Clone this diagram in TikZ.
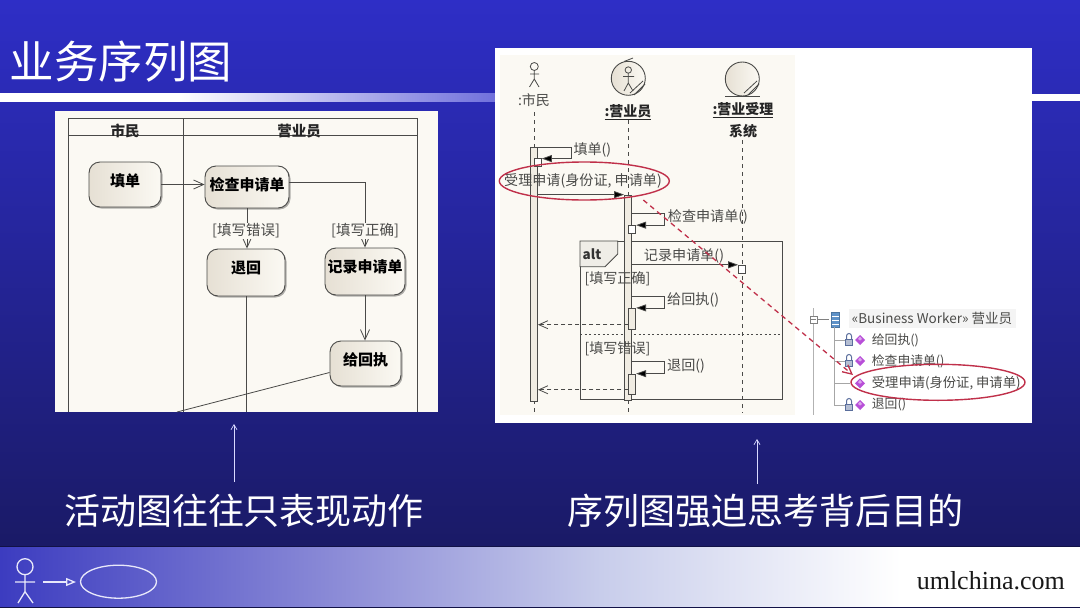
\documentclass[tikz,border=0pt]{standalone}
\usepackage{fontspec}
\setmainfont{Noto Sans CJK SC}
\newfontfamily\latinserif{Liberation Serif}
\usetikzlibrary{arrows.meta,calc,shadows,positioning,shapes.geometric}
\definecolor{bgtop}{HTML}{2E2EC6}
\definecolor{bgmid}{HTML}{2A2AB0}
\definecolor{bgbot}{HTML}{1A1A66}
\definecolor{cream}{HTML}{FBF9F3}
\definecolor{ink}{HTML}{4A4A48}
\definecolor{redmark}{HTML}{C0304A}
\definecolor{lilac}{HTML}{B84FD8}
\definecolor{nodeleft}{HTML}{E6E0D4}
\definecolor{barfill}{HTML}{F0ECE2}
\definecolor{rowgray}{HTML}{F4F4F4}
\definecolor{lockblue}{HTML}{5A6E9C}
\definecolor{clsblue}{HTML}{5E92C8}
\definecolor{logoline}{HTML}{E8E8FA}
\definecolor{ruleend}{HTML}{7070DC}
\definecolor{foota}{HTML}{3C3CC0}
\definecolor{footb}{HTML}{8C8CD7}
\definecolor{footc}{HTML}{C8CDEB}
\pgfdeclarehorizontalshading{ruleshade}{100bp}{color(0bp)=(white); color(25bp)=(white); color(43bp)=(white); color(75bp)=(ruleend); color(100bp)=(ruleend)}
\pgfdeclarehorizontalshading{footshade}{100bp}{color(0bp)=(foota); color(25bp)=(foota); color(40.7bp)=(footb); color(52.8bp)=(footc); color(66.7bp)=(white); color(100bp)=(white)}
\newcommand{\fs}[1]{\fontsize{#1}{#1}\selectfont}
\tikzset{
  activity/.style={draw=ink,line width=0.9pt,rounded corners=11pt,left color=nodeleft,right color=cream,inner sep=0pt,
     drop shadow={shadow xshift=1.5pt,shadow yshift=-1.5pt,opacity=.3,fill=black}},
  flow/.style={draw=ink,line width=0.8pt,-{Straight Barb[length=10pt,width=9pt]}},
  plainflow/.style={draw=ink,line width=0.8pt},
  guard/.style={text=ink,font=\fs{14.5},inner sep=0.5pt,fill=cream},
  barbox/.style={draw=ink,fill=#1,line width=0.8pt,inner sep=0pt,minimum width=7pt},
  barbox/.default=barfill,
  msg/.style={draw=ink,line width=0.8pt,-{Triangle[length=10pt,width=7pt,fill=black]}},
  ret/.style={draw=ink,line width=0.8pt,dash pattern=on 4pt off 3pt,-{Straight Barb[length=9pt,width=8pt]}},
  life/.style={draw=ink,line width=0.8pt,dash pattern=on 4pt off 4pt},
  seqtext/.style={text=ink,font=\fs{14.1},inner sep=0pt},
  seqhead/.style={text=black!85,font=\fs{14}\bfseries,inner sep=0pt},
  ring/.style={draw=redmark,line width=1.4pt,ellipse,inner sep=0pt},
  treetext/.style={text=ink,font=\fs{12.8},inner sep=0pt,anchor=west},
  big/.style={text=white,font=\fs{36},inner sep=0pt},
  pointer/.style={draw=white!85!blue,line width=0.7pt,-{Straight Barb[length=5pt,width=6pt]}},
  logostroke/.style={draw=logoline,line width=1.3pt},
}
\begin{document}
\begin{tikzpicture}[x=1pt,y=-1pt]
\useasboundingbox (0,0) rectangle (1080,608);
% background
\shade[top color=bgtop,middle color=bgmid,bottom color=bgbot] (0,0) rectangle (1080,547);
\shade[shading=ruleshade] (0,93.5) rectangle (495,101);
\fill[white] (1030,93.5) rectangle (1080,100.5);
\shade[shading=footshade] (0,547) rectangle (1080,607);
\fill[bgbot!70!black] (0,546) rectangle (1080,547.3);
\fill[bgbot!70!black] (0,607) rectangle (1080,608);
% title
\node[text=white,font=\fs{44.5},inner sep=0pt] (title) at (121,62) {业务序列图};
% left panel
\fill[cream] (55,111) rectangle (438,412);
\coordinate (ltl) at (68,118); \coordinate (ltr) at (417,118);
\coordinate (lhl) at (68,135); \coordinate (lhr) at (417,135);
\coordinate (lbl) at (68,412); \coordinate (lbr) at (417,412);
\coordinate (ltm) at (183,118); \coordinate (lbm) at (183,412);
\draw[ink,line width=0.9pt] (lbl) -- (ltl) -- (ltr) -- (lbr) (lhl) -- (lhr) (ltm) -- (lbm);
\node[font=\fs{14.5}\bfseries,text=black!85,inner sep=0pt] (h1) at (125,131) {市民};
\node[font=\fs{14.5}\bfseries,text=black!85,inner sep=0pt] (h2) at (299,131) {营业员};
\node[activity,minimum width=72pt,minimum height=45pt,font=\fs{15}\bfseries] (a) at (125,184.5) {\raisebox{8.5pt}{填单}};
\node[activity,minimum width=84pt,minimum height=42pt,font=\fs{15}\bfseries] (b) at (247,187) {\raisebox{7pt}{检查申请单}};
\node[activity,minimum width=78pt,minimum height=47pt,font=\fs{15}\bfseries] (c) at (246,272.5) {\raisebox{10pt}{退回}};
\node[activity,minimum width=80pt,minimum height=47pt,font=\fs{15}\bfseries] (d) at (365,271.5) {\raisebox{10pt}{记录申请单}};
\node[activity,minimum width=71pt,minimum height=45pt,font=\fs{15}\bfseries] (e) at (365.5,363.5) {\raisebox{8.5pt}{给回执}};
\draw[flow] (a.east) -- (a.east -| b.west);
\draw[flow] (b.south) -- (b.south |- c.north);
\coordinate (bout) at ($(b.east)+(0,-5)$);
\draw[flow] (bout) -| (d.north);
\draw[flow] (d.south) -- (d.south |- e.north);
\node[guard] (g3) at (246,231) {[填写错误]};
\node[guard] (g4) at (365,231) {[填写正确]};
\coordinate (cend) at (246,412);
\coordinate (eend) at (177,412);
\draw[plainflow] (c.south) -- (cend);
\coordinate (eout) at ($(e.west)+(0,9)$);
\draw[plainflow] (eout) -- (eend);
% right panel
\fill[white] (495,48) rectangle (1032,423);
\fill[cream] (500,55) rectangle (795,415);
% actor
\draw[ink,line width=0.8pt] (534.3,66.5) circle (4);
\draw[ink,line width=0.8pt] (534.3,70.5) -- (534.3,79) (530,74) -- (539,74) (529.5,87) -- (534.3,79) -- (539,87);
\node[seqtext,font=\fs{14}] (lblA) at (534,100) {:市民};
% worker icon
\node[circle,draw=ink,line width=0.9pt,left color=nodeleft,right color=cream,minimum size=34pt,inner sep=0pt] (icoB) at (628.3,78.3) {};
\draw[ink,line width=0.8pt] (628.3,70) circle (3.2);
\draw[ink,line width=0.8pt] (628.3,73.2) -- (628.3,83) (623,76.5) -- (634,76.5) (624,91) -- (628.3,83) -- (633,91);
\draw[ink,line width=0.8pt] (624,61.5) -- (633,58);
\draw[ink,line width=0.8pt] (630,93) -- (643,81) (634,95) -- (645,84);
\node[seqhead,inner sep=0pt] (lblB) at (628,112) {\underline{:营业员}};
% system icon
\node[circle,draw=ink,line width=0.9pt,left color=nodeleft,right color=cream,minimum size=34pt,inner sep=0pt] (icoC) at (742.3,79) {};
\draw[ink,line width=0.8pt] (725,96) -- (760,96);
\draw[ink,line width=0.8pt] (744,93) -- (757,81) (748,95) -- (759,84);
\node[seqhead] (lblC) at (743,110) {\underline{:营业受理}};
\node[seqhead] (lblC2) at (743,131) {系统};
% alt frame
\coordinate (altTL) at (580,241);
\draw[ink,line width=0.9pt] (altTL) rectangle (782.3,399.3);
\draw[ink,line width=0.8pt,fill=cream!90!gray] (altTL) -- (617.7,241) -- (617.7,254) -- (605,266.7) -- (580,266.7) -- cycle;
\node[font=\fs{13.5}\bfseries,text=black!80,inner sep=0pt] (altlbl) at (592,254) {alt};
\draw[ink,line width=0.8pt,dash pattern=on 2pt off 2.5pt] (580,334) -- (782.3,334);
% lifelines and bars
\coordinate (la0) at (534,112); \coordinate (la1) at (534,413);
\coordinate (lb0) at (628.5,120); \coordinate (lb1) at (628.5,413);
\coordinate (lc0) at (742,140); \coordinate (lc1) at (742,413);
\draw[life] (la0) -- (la1);
\draw[life] (lb0) -- (lb1);
\draw[life] (lc0) -- (lc1);
\node[barbox,minimum height=254pt] (barA) at (534,274) {};
\node[barbox,minimum height=205.7pt] (barB) at (628,297.9) {};
\node[barbox=white,minimum height=8pt] (sa) at (537.9,162) {};
\node[barbox=white,minimum height=7.5pt] (sb) at (632.2,229.3) {};
\node[barbox=white,minimum height=8pt] (sc) at (742,269.2) {};
\node[barbox,minimum height=21pt] (sd) at (632.2,318.8) {};
\node[barbox,minimum height=20.3pt] (se) at (632.2,384.2) {};
\node[seqtext,anchor=west] (g1) at (584.3,279) {[填写正确]};
\node[seqtext,anchor=west] (g2) at (584.3,348.3) {[填写错误]};
% messages
\coordinate (m1) at ($(barA.north east)+(0,0.5)$);
\draw[msg] (m1) -- ++(33,0) |- ($(sa.north east)+(0,1)$);
\node[seqtext,anchor=west] (t1) at (573.3,150) {填单()};
\node[seqtext] (t2) at (583,181) {受理申请(身份证, 申请单)};
\draw[msg] (barA.east |- barB.north) -- (barB.north west);
\coordinate (m2) at (631.5,213);
\draw[msg] (m2) -- ++(33,0) |- (sb.north east);
\node[seqtext,anchor=west] (t3) at (667.7,216.7) {检查申请单()};
\node[seqtext] (t4) at (684,255.7) {记录申请单()};
\draw[msg] (barB.east |- sc.north) -- (sc.north west);
\coordinate (m3) at (631.5,296.3);
\draw[msg] (m3) -- ++(33,0) |- (sd.north east);
\node[seqtext,anchor=west] (t5) at (667,300) {给回执()};
\coordinate (m4) at (631.5,361.7);
\draw[msg] (m4) -- ++(33,0) |- (se.north east);
\node[seqtext,anchor=west] (t6) at (667,365.7) {退回()};
\coordinate (r1) at ($(sd.south west)+(0,-5)$);
\draw[ret] (r1) -- (r1 -| barA.east);
\coordinate (r2) at ($(se.south west)+(0,-5)$);
\draw[ret] (r2) -- (r2 -| barA.east);
% tree
\draw[gray!60,line width=0.8pt] (813.3,308) -- (813.3,415);
\node[draw=gray,fill=white,line width=0.6pt,minimum size=7pt,inner sep=0pt] (minus) at (813.3,319.5) {};
\draw[gray,line width=0.7pt] (810.5,319.5) -- (816,319.5) (816.8,319.5) -- (829,319.5);
\fill[rowgray] (849,309) rectangle (1016,328) ;
\node[draw=clsblue!80!black,fill=clsblue,line width=0.5pt,minimum width=8pt,minimum height=15pt,inner sep=0pt] (cls) at (835.5,319.5) {};
\draw[white,line width=0.6pt] (832,316) -- (839,316) (832,320) -- (839,320) (832,324) -- (839,324);
\node[treetext,font=\fs{13.5}] (trh) at (851.7,318.3) {«Business Worker» 营业员};
\draw[gray!70,line width=0.7pt] (834.3,327) -- (834.3,405) -- (845,405) (834.3,340) -- (845,340) (834.3,361) -- (845,361) (834.3,383.3) -- (850,383.3);
\foreach \ry in {340,361,405}{
  \draw[lockblue,line width=0.8pt,fill=lockblue!45!white] (845.5,\ry-1) rectangle (852.5,\ry+5);
  \draw[lockblue,line width=1pt] (846.5,\ry-1) -- (846.5,\ry-4) arc[start angle=180,end angle=360,radius=2.5] -- (851.5,\ry-1);
}
\foreach \ry in {340,361,383.3,405}{
  \fill[lilac] (860,\ry-5) -- (865,\ry) -- (860,\ry+5) -- (855,\ry) -- cycle;
  \fill[lilac!50!white] (860,\ry-3.5) -- (862,\ry-1) -- (860,\ry+0.5) -- (858,\ry-1) -- cycle;
}
\node[treetext] (r1t) at (871.7,340) {给回执()};
\node[treetext] (r2t) at (871.7,361) {检查申请单()};
\node[treetext,font=\fs{13.3}] (r3t) at (871.7,383) {受理申请(身份证, 申请单)};
\node[treetext] (r4t) at (871.7,405) {退回()};
% red marks
\node[ring,minimum width=170pt,minimum height=38pt] (ringA) at (584.3,181) {};
\node[ring,minimum width=174pt,minimum height=36pt] (ringB) at (938,382.3) {};
\coordinate (redstart) at (643.3,200);
\coordinate (redend) at (853,375);
\draw[redmark,line width=1.3pt,dash pattern=on 5pt off 4pt,-{Straight Barb[length=9pt,width=9pt]}] (redstart) -- (redend);
% bottom captions
\node[big] (capL) at (244,511) {活动图往往只表现动作};
\node[big] (capR) at (765,511) {序列图强迫思考背后目的};
\coordinate (pl) at (234,424); \coordinate (pr) at (757,439);
\coordinate (pl0) at (234,482); \coordinate (pr0) at (757,484);
\draw[pointer] (pl0) -- (pl);
\draw[pointer] (pr0) -- (pr);
% footer logo
\draw[logostroke] (25,566.7) circle (8);
\draw[logostroke] (25,574.7) -- (25,591.7) (15,582) -- (35,582) (18,603) -- (25,591.7) -- (33,603);
\node[ellipse,logostroke,minimum width=76pt,minimum height=33pt,inner sep=0pt] (uc) at (118.5,581.7) {};
\coordinate (lgo) at (43,582);
\coordinate (lgoend) at (76,582);
\draw[logostroke,-{Triangle[open,length=10pt,width=8pt]}] (lgo) -- (lgoend);
\node[anchor=east,font=\latinserif\fs{26},text=black!90,inner sep=0pt] (url) at (1065,581) {umlchina.com};
\end{tikzpicture}
\end{document}
